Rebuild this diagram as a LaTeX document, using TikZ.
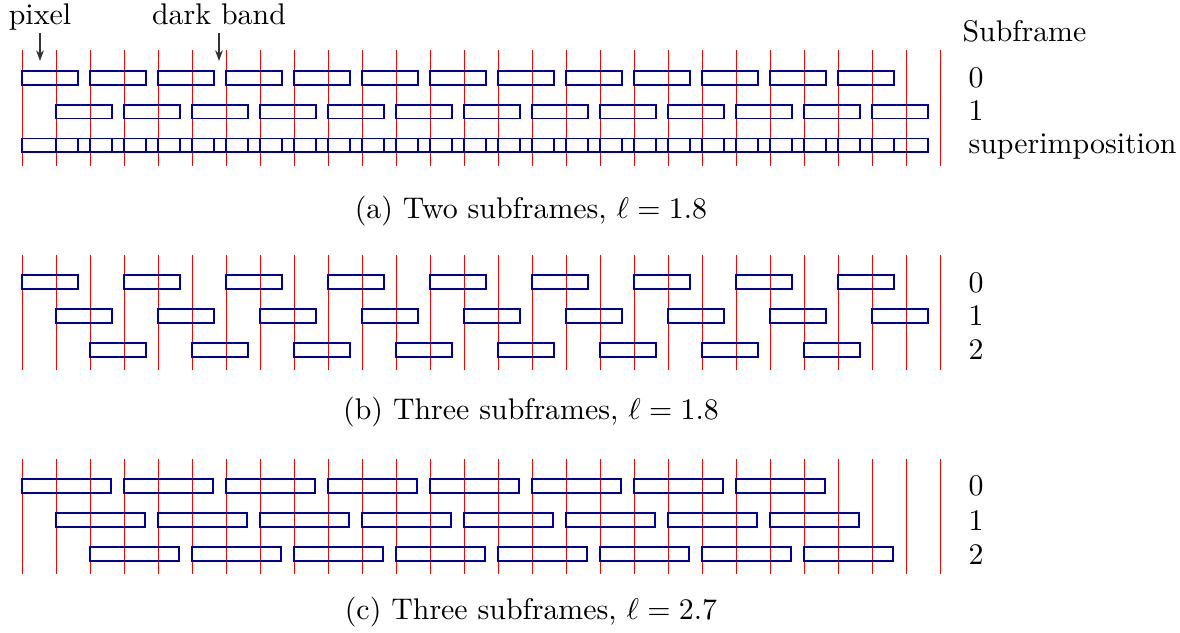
\documentclass[tikz,border=0pt]{standalone}
\usetikzlibrary{arrows.meta}
\begin{document}
\begin{tikzpicture}[x=0.3347pt,y=-0.3347pt,
  gridline/.style={red,line width=0.35pt},
  cell/.style={draw={rgb,255:red,0;green,0;blue,160},line width=0.65pt},
  lbl/.style={inner sep=0pt,anchor=base west},
  captext/.style={inner sep=0pt,anchor=base},
  arr/.style={black!80,line width=0.45pt,-{Stealth[length=3.6pt,width=2.6pt]}}]
\useasboundingbox (0,0) rectangle (1180,632);
% ---------- panel (a)
\foreach \i in {0,...,27} \draw[gridline] ({22.3+34*\i},50) -- ({22.3+34*\i},166);
\foreach \s in {0,2,...,24} \draw[cell] ({22.3+34*\s},70.9) rectangle ++(55.4,13.8);
\foreach \s in {1,3,...,25} \draw[cell] ({22.3+34*\s},104.7) rectangle ++(55.4,13.8);
\foreach \s in {0,...,25} \draw[cell] ({22.3+34*\s},138.5) rectangle ++(55.4,13.8);
\node[captext] (pixlbl) at (40,24.5) {pixel};
\node[captext] (darklbl) at (219,24.5) {dark band};
\coordinate (pixs) at (40,33);
\coordinate (pixt) at (40,61);
\coordinate (dars) at (219,33);
\coordinate (dart) at (219,61);
\draw[arr] (pixs) -- (pixt);
\draw[arr] (dars) -- (dart);
\node[lbl] (sfh) at (962,42) {Subframe};
\node[lbl] (a0) at (968,88) {0};
\node[lbl] (a1) at (968,120.7) {1};
\node[lbl] (as) at (968,153) {superimposition};
\node[captext] (capa) at (531,218.3) {(a) Two subframes, $\ell = 1.8$};
% ---------- panel (b)
\foreach \i in {0,...,27} \draw[gridline] ({22.3+34*\i},255) -- ({22.3+34*\i},370);
\foreach \s in {0,3,...,24} \draw[cell] ({22.3+34*\s},274.9) rectangle ++(55.4,13.8);
\foreach \s in {1,4,...,25} \draw[cell] ({22.3+34*\s},308.9) rectangle ++(55.4,13.8);
\foreach \s in {2,5,...,23} \draw[cell] ({22.3+34*\s},343.1) rectangle ++(55.4,13.8);
\node[lbl] (b0) at (968,292) {0};
\node[lbl] (b1) at (968,325.5) {1};
\node[lbl] (b2) at (968,359) {2};
\node[captext] (capb) at (531,419.3) {(b) Three subframes, $\ell = 1.8$};
% ---------- panel (c)
\foreach \i in {0,...,27} \draw[gridline] ({22.3+34*\i},459) -- ({22.3+34*\i},574);
\foreach \s in {0,3,...,21} \draw[cell] ({22.3+34*\s},478.9) rectangle ++(89.1,13.8);
\foreach \s in {1,4,...,22} \draw[cell] ({22.3+34*\s},512.9) rectangle ++(89.1,13.8);
\foreach \s in {2,5,...,23} \draw[cell] ({22.3+34*\s},547.2) rectangle ++(89.1,13.8);
\node[lbl] (c0) at (968,495.5) {0};
\node[lbl] (c1) at (968,530) {1};
\node[lbl] (c2) at (968,564) {2};
\node[captext] (capc) at (531,619.3) {(c) Three subframes, $\ell = 2.7$};
\end{tikzpicture}
\end{document}
